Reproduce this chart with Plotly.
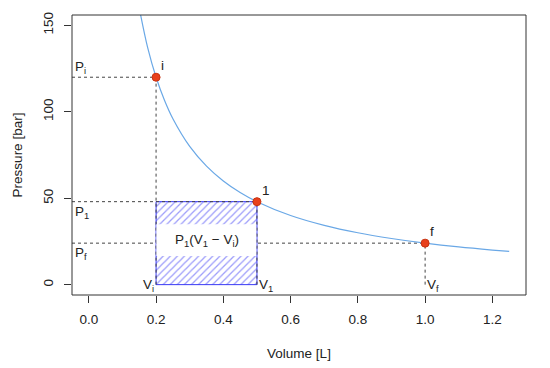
import plotly.graph_objects as go

# ---- data ----
curve_V = [0.15, 0.175, 0.2, 0.225, 0.25, 0.3, 0.35, 0.4, 0.45, 0.5, 0.6, 0.7, 0.8, 0.9, 1.0, 1.1, 1.2, 1.25]
curve_P = [160, 137.1, 120, 106.7, 96, 80, 68.6, 60, 53.3, 48, 40, 34.3, 30, 26.7, 24, 21.8, 20, 19.2]

state_names = ["i", "1", "f"]
state_V = [0.2, 0.5, 1.0]
state_P = [120, 48, 24]

P_labels = ["P<sub>i</sub>", "P<sub>1</sub>", "P<sub>f</sub>"]
V_labels = ["V<sub>i</sub>", "V<sub>1</sub>", "V<sub>f</sub>"]
work_label = "P<sub>1</sub>(V<sub>1</sub> \u2212 V<sub>i</sub>)"
work_band = [16.5, 35]   # white band inside the hatched rectangle (P values)

x_ticks = [0.0, 0.2, 0.4, 0.6, 0.8, 1.0, 1.2]
y_ticks = [0, 50, 100, 150]

X_RANGE = [-0.05, 1.30]
Y_RANGE = [-6, 156]

FONT = "Liberation Sans, Arial, sans-serif"
TXT = "#222222"
DOT = "#444444"
BLUE = "#3a3af5"
FS = 13.5

fig = go.Figure()

# hatched work rectangle
Vi, V1 = state_V[0], state_V[1]
P1 = state_P[1]
fig.add_trace(go.Scatter(
    x=[Vi, V1, V1, Vi, Vi], y=[0, 0, P1, P1, 0],
    mode="lines", fill="toself",
    fillcolor="white",
    fillpattern=dict(shape="/", fgcolor=BLUE, bgcolor="white", size=5, solidity=0.25),
    line=dict(color=BLUE, width=1), hoverinfo="skip", showlegend=False))

# white band with label
fig.add_shape(type="rect", x0=Vi + 0.001, x1=V1 - 0.002, y0=work_band[0], y1=work_band[1],
              fillcolor="white", line=dict(width=0), layer="above")
fig.add_annotation(x=(Vi + V1) / 2, y=(work_band[0] + work_band[1]) / 2, text=work_label,
                   showarrow=False, font=dict(size=FS, color=TXT, family=FONT))

# dotted guide lines
for v, p in zip(state_V, state_P):
    fig.add_trace(go.Scatter(x=[X_RANGE[0], v], y=[p, p], mode="lines",
                             line=dict(color=DOT, width=1, dash="dot"),
                             hoverinfo="skip", showlegend=False))
    fig.add_trace(go.Scatter(x=[v, v], y=[0, p], mode="lines",
                             line=dict(color=DOT, width=1, dash="dot"),
                             hoverinfo="skip", showlegend=False))

# isotherm curve
fig.add_trace(go.Scatter(x=curve_V, y=curve_P, mode="lines", line=dict(color="#6aa8e6", width=1.2, shape="spline"),
                         hoverinfo="skip", showlegend=False))

# state points
fig.add_trace(go.Scatter(x=state_V, y=state_P, mode="markers",
                         marker=dict(color="#e8401c", size=8, line=dict(color="#c83210", width=1)),
                         hoverinfo="skip", showlegend=False, cliponaxis=False))

# labels for states
for n, v, p in zip(state_names, state_V, state_P):
    fig.add_annotation(x=v, y=p, text=n, showarrow=False, xanchor="left", yanchor="bottom",
                       xshift=3, yshift=2, font=dict(size=FS, color=TXT, family=FONT))
for k, (lab, p) in enumerate(zip(P_labels, state_P)):
    fig.add_annotation(x=X_RANGE[0], y=p, text=lab, showarrow=False, xanchor="left",
                       yanchor="bottom" if k == 0 else "top",
                       xshift=1, yshift=-1 if k == 0 else 0, font=dict(size=FS, color=TXT, family=FONT))
for k, (lab, v) in enumerate(zip(V_labels, state_V)):
    fig.add_annotation(x=v, y=0, text=lab, showarrow=False, xanchor="right" if k == 0 else "left",
                       yanchor="middle", xshift=0, yshift=-1, font=dict(size=FS, color=TXT, family=FONT))

# plot frame
fig.add_shape(type="rect", xref="x domain", yref="y domain", x0=0, x1=1, y0=0, y1=1,
              line=dict(color="#333333", width=1), fillcolor="rgba(0,0,0,0)", layer="above")

fig.update_layout(
    width=550, height=368,
    margin=dict(l=72, r=24, t=15, b=73),
    paper_bgcolor="white", plot_bgcolor="white",
    font=dict(family=FONT, size=FS, color=TXT),
    showlegend=False,
    xaxis=dict(range=X_RANGE, tickvals=x_ticks, ticktext=[f"{t:.1f}" for t in x_ticks],
               showgrid=False, zeroline=False, showline=False, automargin=False,
               ticks="outside", ticklen=7, tickcolor="#333333",
               tickfont=dict(size=FS, color=TXT), ticklabelstandoff=5,
               title=dict(text="Volume [L]", font=dict(size=FS, color=TXT), standoff=22)),
    yaxis=dict(range=Y_RANGE, tickvals=y_ticks, ticktext=[str(t) for t in y_ticks],
               showgrid=False, zeroline=False, showline=False, automargin=False,
               ticks="outside", ticklen=7, tickcolor="#333333",
               tickangle=-90, tickfont=dict(size=FS, color=TXT), ticklabelstandoff=6,
               title=dict(text="Pressure [bar]", font=dict(size=FS, color=TXT), standoff=14)),
)

fig.write_html("out.html", config={"displayModeBar": False},
               post_script="document.body.style.margin='0px';")
